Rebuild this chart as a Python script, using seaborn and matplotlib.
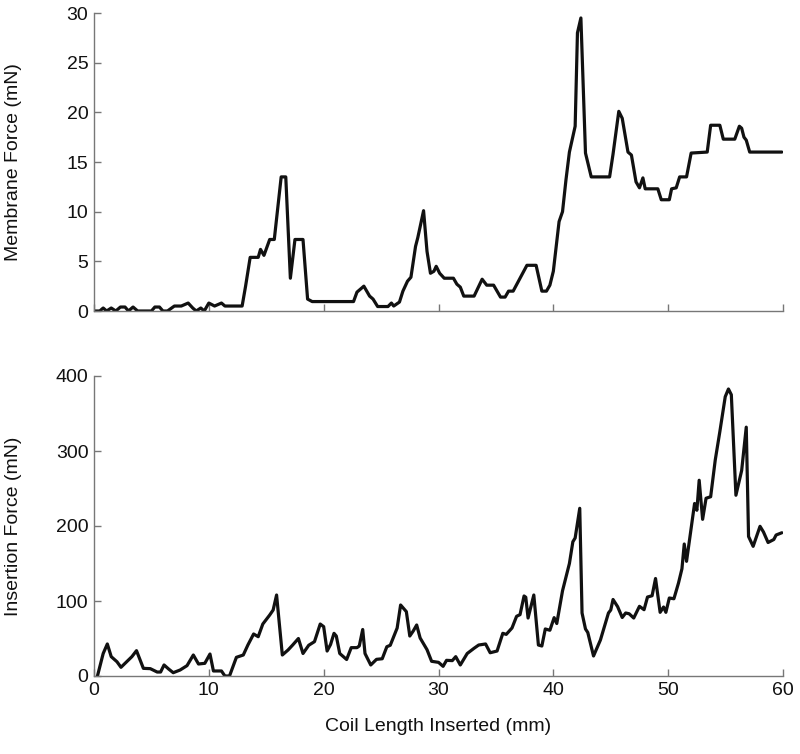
import matplotlib
matplotlib.use("Agg")
import matplotlib.pyplot as plt
import seaborn as sns
import pandas as pd

# Membrane force (top panel)
mem_x = [0.0, 0.5, 0.8, 1.1, 1.5, 1.9, 2.3, 2.7, 3.0, 3.4, 3.8, 4.2, 4.6, 5.0, 5.3, 5.7, 6.0, 6.4,
         7.0, 7.6, 8.2, 8.6, 8.9, 9.3, 9.6, 10.0, 10.5, 11.1, 11.4, 12.9, 13.2, 13.6, 14.3, 14.5, 14.8,
         15.3, 15.7, 16.3, 16.7, 17.1, 17.5, 18.2, 18.6, 19.0, 22.6, 22.9, 23.5, 24.0, 24.3, 24.7, 25.6,
         25.9, 26.1, 26.6, 26.9, 27.3, 27.6, 28.0, 28.2, 28.7, 29.0, 29.3, 29.6, 29.8, 30.1, 30.5, 31.3,
         31.6, 31.9, 32.2, 33.1, 33.8, 34.2, 34.8, 35.4, 35.8, 36.1, 36.5, 37.1, 37.7, 38.5, 39.0, 39.4,
         39.7, 40.0, 40.2, 40.5, 40.8, 41.1, 41.4, 41.9, 42.1, 42.4, 42.8, 43.3, 44.9, 45.2, 45.7, 46.0,
         46.5, 46.8, 47.2, 47.5, 47.8, 48.0, 49.1, 49.4, 50.1, 50.3, 50.7, 51.0, 51.6, 52.0, 53.4, 53.7,
         54.5, 54.8, 55.8, 56.2, 56.4, 56.6, 56.8, 57.1, 59.9]
mem_y = [0.0, 0.0, 0.3, 0.0, 0.3, 0.0, 0.4, 0.4, 0.0, 0.4, 0.0, 0.0, 0.0, 0.0, 0.4, 0.4, 0.0, 0.0,
         0.5, 0.5, 0.8, 0.3, 0.0, 0.3, 0.0, 0.8, 0.5, 0.8, 0.5, 0.5, 2.5, 5.4, 5.4, 6.2, 5.6,
         7.2, 7.2, 13.5, 13.5, 3.3, 7.2, 7.2, 1.2, 0.95, 0.95, 1.9, 2.5, 1.5, 1.2, 0.45, 0.45,
         0.8, 0.5, 0.9, 2.0, 3.0, 3.4, 6.5, 7.4, 10.1, 6.0, 3.8, 4.0, 4.5, 3.8, 3.3, 3.3,
         2.7, 2.4, 1.5, 1.5, 3.2, 2.6, 2.6, 1.4, 1.4, 2.0, 2.0, 3.3, 4.6, 4.6, 2.0, 2.0,
         2.6, 4.0, 6.0, 9.0, 10.0, 13.2, 16.0, 18.6, 28.0, 29.5, 15.9, 13.5, 13.5, 15.8, 20.1, 19.4,
         16.0, 15.7, 13.0, 12.4, 13.4, 12.3, 12.3, 11.2, 11.2, 12.3, 12.4, 13.5, 13.5, 15.9, 16.0, 18.7,
         18.7, 17.3, 17.3, 18.6, 18.4, 17.5, 17.2, 16.0, 16.0]

# Insertion force (bottom panel)
ins_x = [0.3, 0.8, 1.16, 1.5, 2.0, 2.35, 2.85, 3.3, 3.7, 4.0, 4.3, 4.9, 5.5, 5.8, 6.1, 6.5, 6.9, 7.5,
         8.1, 8.65, 9.1, 9.65, 10.1, 10.4, 11.1, 11.4, 11.8, 12.4, 13.0, 13.4, 13.9, 14.3, 14.7, 15.3,
         15.6, 15.9, 16.4, 16.9, 17.3, 17.8, 18.2, 18.7, 19.2, 19.7, 20.0, 20.3, 20.6, 20.9, 21.1, 21.4,
         22.0, 22.4, 22.9, 23.1, 23.4, 23.6, 24.1, 24.6, 25.1, 25.5, 25.8, 26.4, 26.7, 27.2, 27.5, 27.8,
         28.1, 28.4, 29.0, 29.4, 30.0, 30.4, 30.7, 31.2, 31.5, 31.9, 32.5, 33.1, 33.5, 34.1, 34.5, 35.1,
         35.6, 35.9, 36.4, 36.8, 37.1, 37.45, 37.6, 37.8, 38.3, 38.7, 39.0, 39.3, 39.7, 40.07, 40.3,
         40.8, 41.4, 41.7, 41.9, 42.3, 42.5, 42.8, 43.0, 43.5, 44.1, 44.8, 45.0, 45.2, 45.6, 46.0, 46.3,
         46.6, 47.0, 47.5, 47.9, 48.2, 48.6, 48.9, 49.3, 49.6, 49.8, 50.1, 50.5, 50.9, 51.2, 51.4, 51.6,
         52.3, 52.5, 52.7, 53.0, 53.3, 53.7, 54.1, 54.5, 54.97, 55.25, 55.5, 55.9, 56.4, 56.8, 57.0,
         57.4, 58.0, 58.3, 58.7, 59.2, 59.4, 59.9]
ins_y = [0, 30, 42.7, 25.8, 19, 11.6, 19, 25.8, 33.8, 21.8, 10.2, 9.8, 5.3, 5.3, 14.7, 9.3, 4.4, 8,
         13.8, 28, 16, 16.9, 29.3, 6.7, 6.7, 0, 0, 24.9, 28, 41.3, 56, 52.4, 69.3, 81.3,
         88, 108, 28, 34.7, 41.3, 50, 30, 41, 45.8, 69.3, 65.8, 33.3, 42, 56.9, 53.3, 30,
         22, 37.8, 37.8, 40, 62, 30, 14.7, 22.2, 23, 39, 41, 64, 94.7, 85.8, 53.3, 60,
         68, 50.7, 35.1, 19.6, 18.2, 12.9, 20.9, 20.5, 25.8, 14.7, 30, 37, 41.3, 42.7, 31, 33.3,
         56.9, 55.5, 64, 79.6, 81.8, 106.7, 105, 77.3, 108, 41.3, 40, 62.7, 61, 77.8, 70,
         113.6, 150, 179, 184, 223.6, 84, 62.7, 58, 26.7, 48, 84, 88, 102, 92.4, 78, 84,
         83, 77.3, 92.9, 88.4, 105.3, 107, 130, 84.9, 92, 84.9, 104, 103, 124, 143, 176, 152.9,
         230, 221, 261, 208.9, 237, 239, 288, 325.8, 372.4, 382.7, 375, 241, 274, 331.8, 186,
         172.9, 199.6, 192, 178, 182, 188, 191]

x_ticks = [0, 10, 20, 30, 40, 50, 60]
mem_ticks = [0, 5, 10, 15, 20, 25, 30]
ins_ticks = [0, 100, 200, 300, 400]

sns.set_theme(style="white")
plt.rcParams['font.family'] = ['Liberation Sans', 'DejaVu Sans']

fig = plt.figure(figsize=(8.0, 7.54), dpi=100)
W, H = 800.0, 754.0
ax1 = fig.add_axes([94 / W, 1 - 311 / H, (783 - 94) / W, (311 - 13) / H])
ax2 = fig.add_axes([94 / W, 1 - 676 / H, (783 - 94) / W, (676 - 376) / H])

df1 = pd.DataFrame({"x": mem_x, "y": mem_y})
df2 = pd.DataFrame({"x": ins_x, "y": ins_y})
sns.lineplot(data=df1, x="x", y="y", ax=ax1, color="#111111", linewidth=2.3)
sns.lineplot(data=df2, x="x", y="y", ax=ax2, color="#111111", linewidth=2.3)

for ax in (ax1, ax2):
    ax.set_xlim(0, 60)
    ax.set_xticks(x_ticks)
    for s in ("top", "right"):
        ax.spines[s].set_visible(False)
    for s in ("left", "bottom"):
        ax.spines[s].set_color("#777777")
        ax.spines[s].set_linewidth(1.0)
    ax.tick_params(direction="in", length=5, width=1, color="#777777",
                   labelsize=14, labelcolor="#111111", left=True, bottom=True, pad=4)

ax1.set_ylim(0, 30)
ax1.set_yticks(mem_ticks)
ax1.set_xticklabels([])
ax1.set_xlabel("")
ax1.set_ylabel("Membrane Force (mN)", fontsize=14, color="#111111")
ax1.yaxis.set_label_coords(-0.105, 0.5)

ax2.set_ylim(0, 400)
ax2.set_yticks(ins_ticks)
ax2.set_xlabel("Coil Length Inserted (mm)", fontsize=14, color="#111111", labelpad=14)
ax2.set_ylabel("Insertion Force (mN)", fontsize=14, color="#111111")
ax2.yaxis.set_label_coords(-0.105, 0.5)

fig.savefig("out.png", dpi=100)
